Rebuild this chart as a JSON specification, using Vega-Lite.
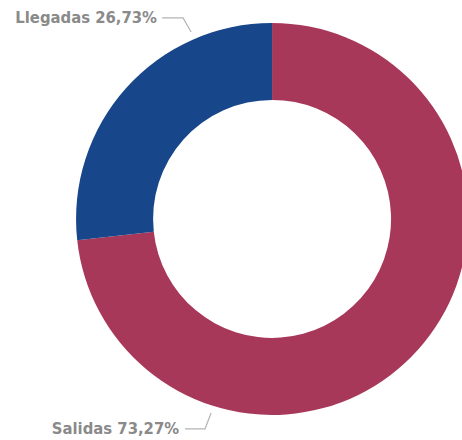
{
  "$schema": "https://vega.github.io/schema/vega-lite/v6.json",
  "width": 462,
  "height": 440,
  "padding": 0,
  "autosize": {"type": "none"},
  "background": "white",
  "config": {"view": {"stroke": null}},
  "layer": [
    {
      "data": {"values": [
        {"category": "Salidas", "value": 73.27, "ord": 1},
        {"category": "Llegadas", "value": 26.73, "ord": 2}
      ]},
      "mark": {"type": "arc", "outerRadius": 196, "innerRadius": 119},
      "encoding": {
        "x": {"datum": 0, "type": "quantitative", "scale": {"domain": [-1.388, 0.969], "nice": false, "zero": false}, "axis": null},
        "y": {"datum": 0, "type": "quantitative", "scale": {"domain": [-1.128, 1.117], "nice": false, "zero": false}, "axis": null},
        "theta": {"field": "value", "type": "quantitative", "stack": true},
        "order": {"field": "ord"},
        "color": {"field": "category", "type": "nominal", "scale": {"domain": ["Salidas", "Llegadas"], "range": ["#A8385A", "#17468A"]}, "legend": null}
      }
    },
    {
      "data": {"values": [
        {"label": "Llegadas", "step": 1, "px": -0.561, "py": 1.026},
        {"label": "Llegadas", "step": 2, "px": -0.454, "py": 1.026},
        {"label": "Llegadas", "step": 3, "px": -0.413, "py": 0.954},
        {"label": "Salidas", "step": 1, "px": -0.444, "py": -1.071},
        {"label": "Salidas", "step": 2, "px": -0.342, "py": -1.071},
        {"label": "Salidas", "step": 3, "px": -0.311, "py": -0.990}
      ]},
      "mark": {"type": "line", "color": "#B4B4B4", "strokeWidth": 1.2},
      "encoding": {
        "x": {"field": "px", "type": "quantitative"},
        "y": {"field": "py", "type": "quantitative"},
        "detail": {"field": "label"},
        "order": {"field": "step"}
      }
    },
    {
      "data": {"values": [
        {"text": "Llegadas 26,73%", "px": -0.587, "py": 1.026},
        {"text": "Salidas 73,27%", "px": -0.474, "py": -1.071}
      ]},
      "mark": {"type": "text", "align": "right", "baseline": "middle", "font": "DejaVu Sans Condensed", "fontWeight": "bold", "fontSize": 16.5, "color": "#8A8A8A"},
      "encoding": {
        "x": {"field": "px", "type": "quantitative"},
        "y": {"field": "py", "type": "quantitative"},
        "text": {"field": "text"}
      }
    }
  ]
}
